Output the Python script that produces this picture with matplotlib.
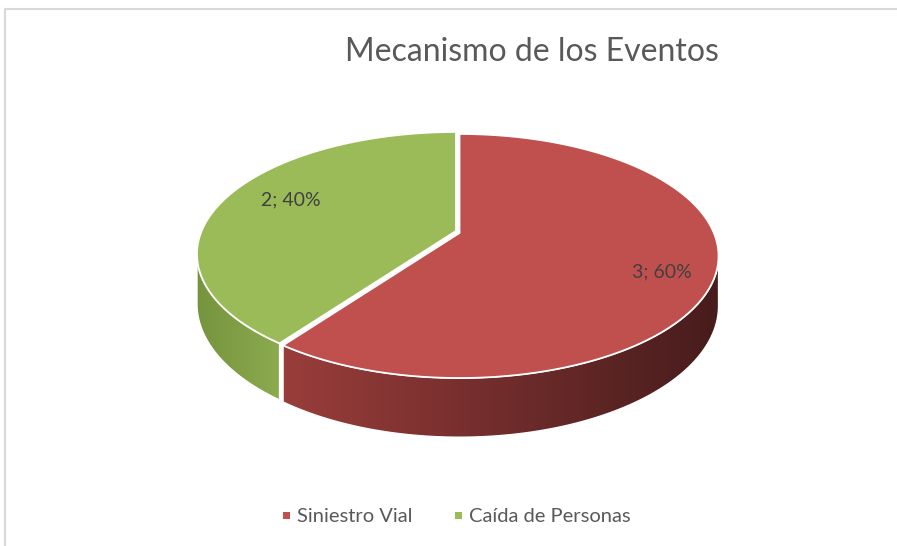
import numpy as np
import matplotlib
matplotlib.use("Agg")
import matplotlib.pyplot as plt
from matplotlib.patches import Polygon, Rectangle

categories = ["Siniestro Vial", "Caída de Personas"]
values = [3, 2]
top_colors = ["#C0504D", "#9BBB59"]
# side shading, left colour -> right colour
side_colors = [((0.60, 0.24, 0.23), (0.28, 0.11, 0.11)),
               ((0.46, 0.58, 0.24), (0.55, 0.67, 0.31))]
title = "Mecanismo de los Eventos"

W, H = 897, 546
fig = plt.figure(figsize=(W / 100, H / 100), dpi=100)
ax = fig.add_axes([0, 0, 1, 1])
ax.set_xlim(0, W)
ax.set_ylim(H, 0)
ax.axis("off")

# --- simple perspective projection of a flat cylinder ---
cx, cy = 458.0, 232.0
k = 0.1885
A, B = 254.4, 117.7
depth = 48.0


def proj(t_deg, down=0.0, off=(0.0, 0.0)):
    t = np.radians(t_deg)
    X, Z = np.sin(t), np.cos(t)
    w = 1 + k * Z
    return cx + off[0] + A * X / w, cy + off[1] - B * Z / w + depth * down / w


total = sum(values)
fracs = [v / total for v in values]
starts = np.cumsum([0] + fracs[:-1]) * 360
ends = starts + np.array(fracs) * 360
offsets = [(1.5, 1.0), (-2.0, -1.0)]

vis_lo = 90 + np.degrees(np.arcsin(k))
vis_hi = 270 - np.degrees(np.arcsin(k))

# sides, with a horizontal gradient clipped to the side outline
for i in range(len(values)):
    lo, hi = max(starts[i], vis_lo), min(ends[i], vis_hi)
    if lo >= hi:
        continue
    ts = np.linspace(lo, hi, 200)
    top = [proj(t, 0, offsets[i]) for t in ts]
    bot = [proj(t, 1, offsets[i]) for t in ts[::-1]]
    outline = Polygon(top + bot, closed=True, facecolor="none",
                      edgecolor="white", lw=1.0, zorder=3)
    ax.add_patch(outline)
    pts = np.array(top + bot)
    x0, x1 = pts[:, 0].min(), pts[:, 0].max()
    y0, y1 = pts[:, 1].min(), pts[:, 1].max()
    c0, c1 = np.array(side_colors[i][0]), np.array(side_colors[i][1])
    f = np.linspace(0, 1, 256)[None, :, None]
    grad = c0 + (c1 - c0) * f
    im = ax.imshow(grad, extent=(x0, x1, y1, y0), aspect="auto",
                   interpolation="bilinear", zorder=2)
    im.set_clip_path(outline)

ax.set_xlim(0, W)
ax.set_ylim(H, 0)

# tops
for i in range(len(values)):
    ts = np.linspace(starts[i], ends[i], 200)
    pts = [(cx + offsets[i][0], cy + offsets[i][1])] + [proj(t, 0, offsets[i]) for t in ts]
    ax.add_patch(Polygon(pts, closed=True, facecolor=top_colors[i],
                         edgecolor="white", lw=1.3, zorder=4))

# data labels
label_pos = [(662, 272), (291, 200)]
for i, v in enumerate(values):
    ax.text(label_pos[i][0], label_pos[i][1], f"{v}; {round(fracs[i] * 100)}%",
            ha="center", va="center", fontsize=14, color="#404040",
            family="Lato", zorder=5)

ax.text(532, 52, title, ha="center", va="center", fontsize=23,
        color="#595959", family="Lato")

# legend
leg_x = [286, 458]
for i, name in enumerate(categories):
    ax.add_patch(Rectangle((leg_x[i] - 3.5, 512), 7, 7, facecolor=top_colors[i],
                           edgecolor="none"))
    ax.text(leg_x[i] + 11, 516, name, ha="left", va="center", fontsize=14.5,
            color="#595959", family="Lato")

# chart frame
ax.plot([5, W], [9, 9], color="#d9d9d9", lw=1.5)
ax.plot([5, 5], [9, H], color="#d9d9d9", lw=1.5)

fig.savefig("out.png", dpi=100)
